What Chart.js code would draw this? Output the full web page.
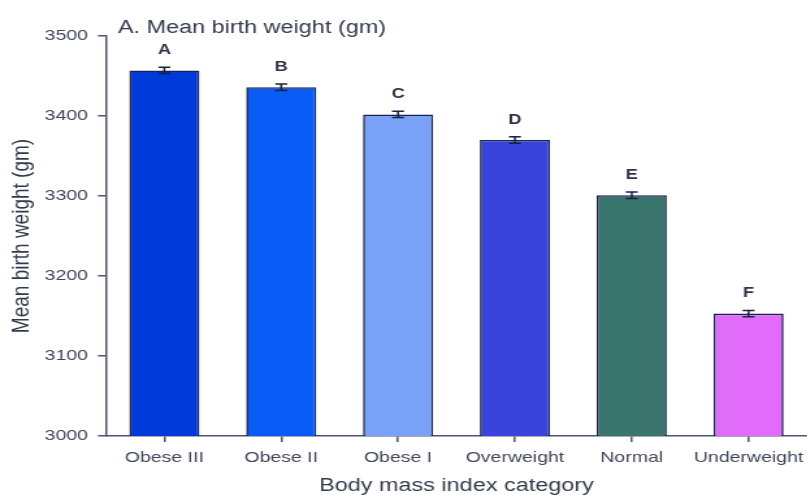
<!DOCTYPE html>
<html>
<head>
<meta charset="utf-8">
<script src="https://cdn.jsdelivr.net/npm/chart.js@4/dist/chart.umd.min.js"></script>
<style>
  html, body { margin: 0; padding: 0; background: #fff; overflow: hidden; }
  #wrap { width: 625px; height: 495px; transform: scaleX(1.3); transform-origin: 0 0; }
</style>
</head>
<body>
<div id="wrap"><canvas id="c" width="625" height="495"></canvas></div>
<script>
// Mean birth weight by maternal BMI category
const categories = ['Obese III', 'Obese II', 'Obese I', 'Overweight', 'Normal', 'Underweight'];
const meanWeight = [3457, 3436, 3402, 3370, 3301, 3153];
const stdError = [4, 4, 4, 4, 4, 4];
const groupLetters = ['A', 'B', 'C', 'D', 'E', 'F'];
const yTicks = [3000, 3100, 3200, 3300, 3400, 3500];
const barColors = ['#0039d9', '#085bf5', '#79a2f7', '#3944dc', '#3a756d', '#e16cf9'];

const textColor = '#3f4659';
const axisColor = '#4d566f';
Chart.defaults.font.family = "'Liberation Sans', Arial, sans-serif";

// Error bars and significance letters above each bar
const errorBars = {
  id: 'errorBars',
  afterDatasetsDraw(chart) {
    const ctx = chart.ctx;
    const y = chart.scales.y;
    const meta = chart.getDatasetMeta(0);
    ctx.save();
    meta.data.forEach((bar, i) => {
      const x = bar.x;
      const top = y.getPixelForValue(meanWeight[i] + stdError[i]);
      const bot = y.getPixelForValue(meanWeight[i] - stdError[i]);
      ctx.strokeStyle = '#1b2240';
      ctx.lineWidth = 1.5;
      ctx.beginPath();
      ctx.moveTo(x, top); ctx.lineTo(x, bot);
      ctx.moveTo(x - 4.6, top); ctx.lineTo(x + 4.6, top);
      ctx.moveTo(x - 4.6, bot); ctx.lineTo(x + 4.6, bot);
      ctx.stroke();
      ctx.fillStyle = '#2e3446';
      ctx.font = "bold 14px 'Liberation Sans', Arial, sans-serif";
      ctx.textAlign = 'center';
      ctx.textBaseline = 'alphabetic';
      ctx.fillText(groupLetters[i], x, top - 13);
    });
    ctx.restore();
  }
};

// Panel heading
const panelTitle = {
  id: 'panelTitle',
  afterDraw(chart) {
    const ctx = chart.ctx;
    ctx.save();
    ctx.fillStyle = '#333a4b';
    ctx.font = "18px 'Liberation Sans', Arial, sans-serif";
    ctx.textAlign = 'left';
    ctx.textBaseline = 'alphabetic';
    ctx.fillText('A. Mean birth weight (gm)', 90.8, 33);
    ctx.restore();
  }
};

new Chart(document.getElementById('c'), {
  type: 'bar',
  data: {
    labels: categories,
    datasets: [{
      data: meanWeight,
      backgroundColor: barColors,
      borderColor: '#1a2250',
      borderWidth: 1.6,
      borderSkipped: false,
      barPercentage: 0.6,
      categoryPercentage: 1.0
    }]
  },
  options: {
    responsive: false,
    animation: false,
    layout: { padding: { top: 36, left: 0, right: 1, bottom: 0 } },
    plugins: { legend: { display: false }, tooltip: { enabled: false }, title: { display: false } },
    scales: {
      x: {
        afterFit: (s) => { s.height = 59; },
        grid: { display: true, drawOnChartArea: false, drawTicks: true, tickLength: 6, tickColor: axisColor, lineWidth: 1.5, offset: false },
        border: { display: true, color: axisColor, width: 1.5 },
        ticks: { color: textColor, font: { size: 15 }, padding: 7, maxRotation: 0, autoSkip: false },
        title: { display: true, text: 'Body mass index category', color: '#333a4b', font: { size: 18, lineHeight: 1.0 }, padding: { top: 0, bottom: 0 } }
      },
      y: {
        min: 3000,
        max: 3500,
        afterFit: (s) => { s.width = 81.5; },
        afterBuildTicks: (s) => { s.ticks = yTicks.map(v => ({ value: v })); },
        grid: { display: true, drawOnChartArea: false, drawTicks: true, tickLength: 6.2, tickColor: axisColor, lineWidth: 1.5 },
        border: { display: true, color: axisColor, width: 1.5 },
        ticks: { color: textColor, font: { size: 15 }, padding: 7.6, callback: (v) => String(v) },
        title: { display: true, text: 'Mean birth weight (gm)', color: '#333a4b', font: { size: 19, lineHeight: 1.2 }, padding: { top: 5, bottom: 0 } }
      }
    }
  },
  plugins: [errorBars, panelTitle]
});
</script>
</body>
</html>
